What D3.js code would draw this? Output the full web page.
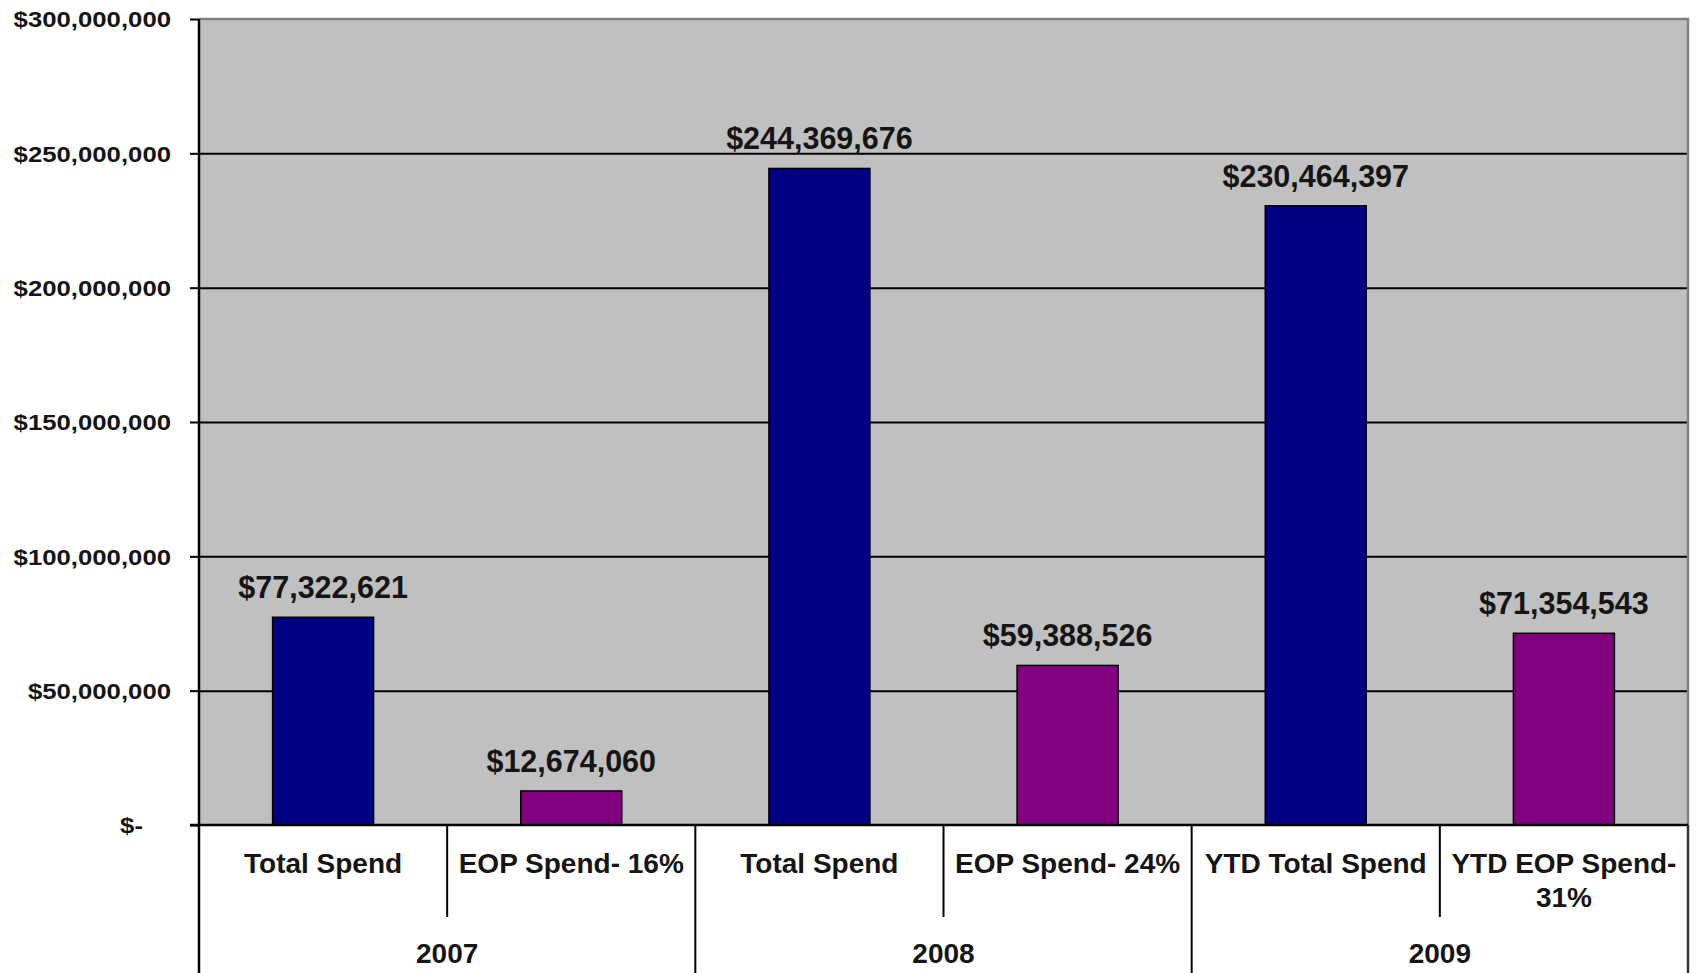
<!DOCTYPE html>
<html>
<head>
<meta charset="utf-8">
<script src="https://cdn.jsdelivr.net/npm/d3@7"></script>
<style>
  html, body { margin: 0; padding: 0; background: #fff; }
  svg { display: block; }
  text { font-family: "Liberation Sans", Arial, sans-serif; font-weight: bold; fill: #151515; }
</style>
</head>
<body>
<svg id="chart" width="1697" height="973"></svg>
<script>
// Spend per category, grouped by year
const categories = ["Total Spend", "EOP Spend- 16%", "Total Spend", "EOP Spend- 24%", "YTD Total Spend", "YTD EOP Spend- 31%"];
const categoryYear = ["2007", "2007", "2008", "2008", "2009", "2009"];
const years = ["2007", "2008", "2009"];
const values = [77322621, 12674060, 244369676, 59388526, 230464397, 71354543];
const seriesKind = ["total", "eop", "total", "eop", "total", "eop"];
const yTicks = [0, 50000000, 100000000, 150000000, 200000000, 250000000, 300000000];

const colors = { total: "#000080", eop: "#800080" };

const svg = d3.select("#chart");
const W = 1697, H = 973;
const plot = { left: 199, right: 1688, top: 19, bottom: 825 };

const x = d3.scaleBand().domain(d3.range(categories.length))
  .range([plot.left, plot.right]).paddingInner(0.593).paddingOuter(0.2965);
const xCat = d3.scaleBand().domain(d3.range(categories.length)).range([plot.left, plot.right]);
const xYear = d3.scaleBand().domain(years).range([plot.left, plot.right]);
const y = d3.scaleLinear().domain([0, 300000000]).range([plot.bottom, plot.top]);

// plot background
svg.append("rect")
  .attr("x", plot.left).attr("y", plot.top)
  .attr("width", plot.right - plot.left).attr("height", plot.bottom - plot.top)
  .attr("fill", "#c0c0c0");

// horizontal gridlines
const grid = svg.append("g").attr("transform", `translate(${plot.left},0)`)
  .call(d3.axisLeft(y).tickValues(yTicks.filter(t => t > 0 && t < 300000000))
    .tickSize(-(plot.right - plot.left)).tickFormat(""));
grid.select(".domain").remove();
grid.selectAll("line").attr("stroke", "#000").attr("stroke-width", 2);

// top and right border of the plot area
svg.append("path")
  .attr("d", `M${plot.left},${plot.top}H${plot.right}V${plot.bottom}`)
  .attr("fill", "none").attr("stroke", "#808080").attr("stroke-width", 2.5);

// bars
svg.append("g").selectAll("rect").data(values).join("rect")
  .attr("x", (d, i) => x(i))
  .attr("y", d => y(d))
  .attr("width", x.bandwidth())
  .attr("height", d => y(0) - y(d))
  .attr("fill", (d, i) => colors[seriesKind[i]])
  .attr("stroke", "#000").attr("stroke-width", 1.5);

// value labels
svg.append("g").selectAll("text").data(values).join("text")
  .attr("x", (d, i) => x(i) + x.bandwidth() / 2)
  .attr("y", d => y(d) - 19)
  .attr("text-anchor", "middle")
  .style("font-size", "30.5px")
  .text(d => d3.format("$,")(d));

// y axis with ticks and labels
const labelStretch = 1.17;
const yAxis = svg.append("g").attr("transform", `translate(${plot.left},0)`)
  .call(d3.axisLeft(y).tickValues(yTicks).tickSize(9).tickPadding(0)
    .tickFormat(d => d === 0 ? "$-" : d3.format("$,")(d)));
yAxis.select(".domain").remove();
yAxis.selectAll("line").attr("stroke", "#000").attr("stroke-width", 2);
yAxis.selectAll("text")
  .attr("x", d => (d === 0 ? -56 : -28) / labelStretch)
  .attr("dy", "0.36em")
  .attr("transform", `scale(${labelStretch},1)`)
  .attr("text-anchor", "end")
  .style("font-size", "22px")
  .style("font-family", "'Liberation Sans', Arial, sans-serif")
  .attr("fill", "#151515");

// left axis line
svg.append("line")
  .attr("x1", plot.left).attr("x2", plot.left)
  .attr("y1", plot.top).attr("y2", H)
  .attr("stroke", "#000").attr("stroke-width", 2.5);

// category axis line
svg.append("line")
  .attr("x1", plot.left - 9).attr("x2", plot.right)
  .attr("y1", y(0)).attr("y2", y(0))
  .attr("stroke", "#000").attr("stroke-width", 2.5);

// separators between categories inside a year
const catSep = d3.range(1, categories.length).filter(i => categoryYear[i] === categoryYear[i - 1]);
svg.append("g").selectAll("line").data(catSep).join("line")
  .attr("x1", i => xCat(i)).attr("x2", i => xCat(i))
  .attr("y1", y(0)).attr("y2", 917)
  .attr("stroke", "#000").attr("stroke-width", 2);

// separators between years (full height)
svg.append("g").selectAll("line").data(years.slice(1)).join("line")
  .attr("x1", d => xYear(d)).attr("x2", d => xYear(d))
  .attr("y1", y(0)).attr("y2", H)
  .attr("stroke", "#000").attr("stroke-width", 2);
svg.append("line")
  .attr("x1", plot.right).attr("x2", plot.right)
  .attr("y1", y(0)).attr("y2", H)
  .attr("stroke", "#333").attr("stroke-width", 2.5);

// category labels, wrapped to the category width
const catFont = 28;
const catLabels = svg.append("g").selectAll("text").data(categories).join("text")
  .attr("text-anchor", "middle")
  .style("font-size", catFont + "px")
  .attr("y", 873);
catLabels.each(function (label, i) {
  const t = d3.select(this);
  const cx = xCat(i) + xCat.bandwidth() / 2;
  const maxW = xCat.bandwidth() - 6;
  const words = label.split(" ");
  const lines = [];
  let cur = "";
  const probe = t.append("tspan");
  words.forEach(w => {
    const test = cur ? cur + " " + w : w;
    probe.text(test);
    if (probe.node().getComputedTextLength() > maxW && cur) {
      lines.push(cur);
      cur = w;
    } else {
      cur = test;
    }
  });
  lines.push(cur);
  probe.remove();
  lines.forEach((ln, k) => {
    t.append("tspan").attr("x", cx).attr("dy", k === 0 ? 0 : 34).text(ln);
  });
});

// year labels
svg.append("g").selectAll("text").data(years).join("text")
  .attr("x", d => xYear(d) + xYear.bandwidth() / 2)
  .attr("y", 963)
  .attr("text-anchor", "middle")
  .style("font-size", catFont + "px")
  .text(d => d);
</script>
</body>
</html>
